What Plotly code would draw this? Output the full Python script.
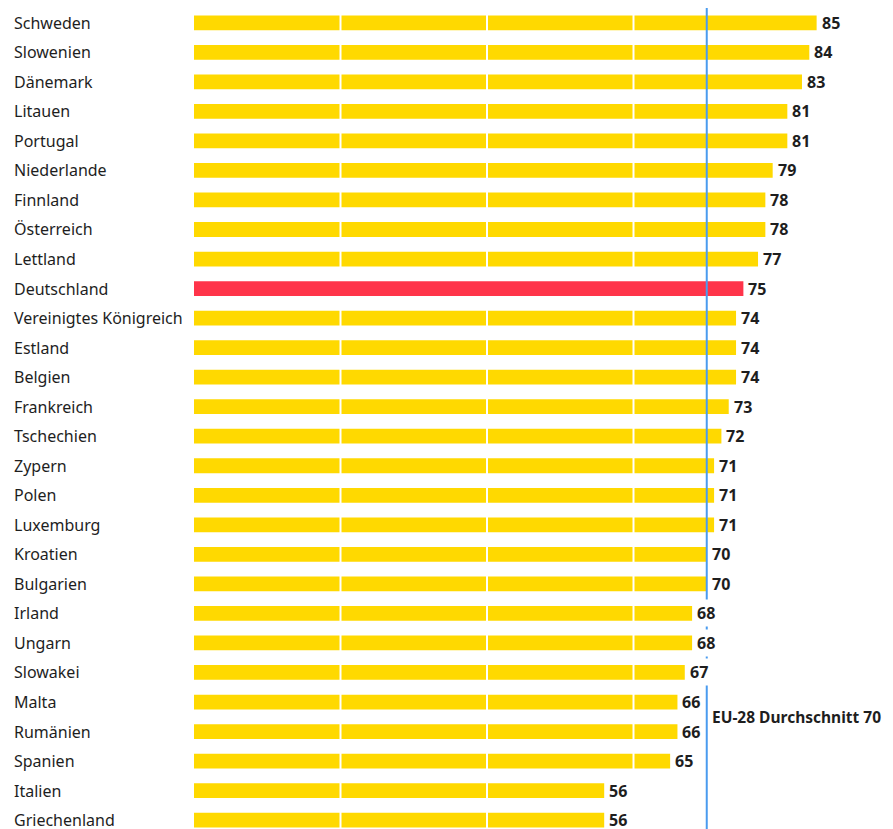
import plotly.graph_objects as go

countries = ["Schweden", "Slowenien", "Dänemark", "Litauen", "Portugal", "Niederlande",
             "Finnland", "Österreich", "Lettland", "Deutschland", "Vereinigtes Königreich",
             "Estland", "Belgien", "Frankreich", "Tschechien", "Zypern", "Polen", "Luxemburg",
             "Kroatien", "Bulgarien", "Irland", "Ungarn", "Slowakei", "Malta", "Rumänien",
             "Spanien", "Italien", "Griechenland"]
values = [85, 84, 83, 81, 81, 79, 78, 78, 77, 75, 74, 74, 74, 73, 72, 71, 71, 71,
          70, 70, 68, 68, 67, 66, 66, 65, 56, 56]
highlight = "Deutschland"
eu_avg = 70
eu_label = "EU-28 Durchschnitt 70"
grid_vals = [20, 40, 60]

YELLOW = "#FFD900"
RED = "#FF344A"
BLUE = "#4A9BEF"
TEXT = "#1E1E1E"
FONT = "Noto Sans"

idx = list(range(len(countries)))
colors = [RED if c == highlight else YELLOW for c in countries]
hi = countries.index(highlight)
y_top, y_bot = -0.5, len(countries) - 0.7

fig = go.Figure()
fig.add_trace(go.Bar(x=values, y=idx, orientation="h", marker=dict(color=colors, line=dict(width=0)),
                     width=0.5, hoverinfo="skip", showlegend=False))

# white gridlines over yellow bars (not over highlighted bar)
gx, gy = [], []
for g in grid_vals:
    gx += [g, g, None, g, g, None]
    gy += [y_top, hi - 0.5, None, hi + 0.5, y_bot, None]
fig.add_trace(go.Scatter(x=gx, y=gy, mode="lines", line=dict(color="white", width=2),
                         hoverinfo="skip", showlegend=False))

fig.add_shape(type="line", x0=eu_avg, x1=eu_avg, y0=y_top, y1=y_bot, xref="x", yref="y",
              line=dict(color=BLUE, width=2), layer="above")

for i, (c, v) in enumerate(zip(countries, values)):
    fig.add_annotation(x=-182 / 699, xref="paper", y=i, yref="y", text=c, showarrow=False,
                       xanchor="left", yanchor="middle", font=dict(family=FONT, size=16, color=TEXT))
    fig.add_annotation(x=v, xref="x", y=i, yref="y", text="<b>%d</b>" % v, showarrow=False,
                       xanchor="left", yanchor="middle", xshift=2, bgcolor="white", borderpad=2,
                       font=dict(family=FONT, size=16, color=TEXT))

fig.add_annotation(x=eu_avg, xref="x", y=countries.index("Malta") + 0.5, yref="y",
                   text="<b>%s</b>" % eu_label, showarrow=False, xanchor="left", yanchor="middle",
                   xshift=3, font=dict(family=FONT, size=15.5, color=TEXT))

fig.update_layout(
    width=885, height=831,
    margin=dict(l=186, r=0, t=0, b=10),
    plot_bgcolor="white", paper_bgcolor="white",
    xaxis=dict(range=[0, 699 / 7.325], showgrid=False, zeroline=False, showticklabels=False,
               showline=False, fixedrange=True),
    yaxis=dict(range=[y_bot, y_top], showgrid=False, zeroline=False, showticklabels=False,
               showline=False, fixedrange=True),
    bargap=0.5,
)

fig.write_html("out.html")
